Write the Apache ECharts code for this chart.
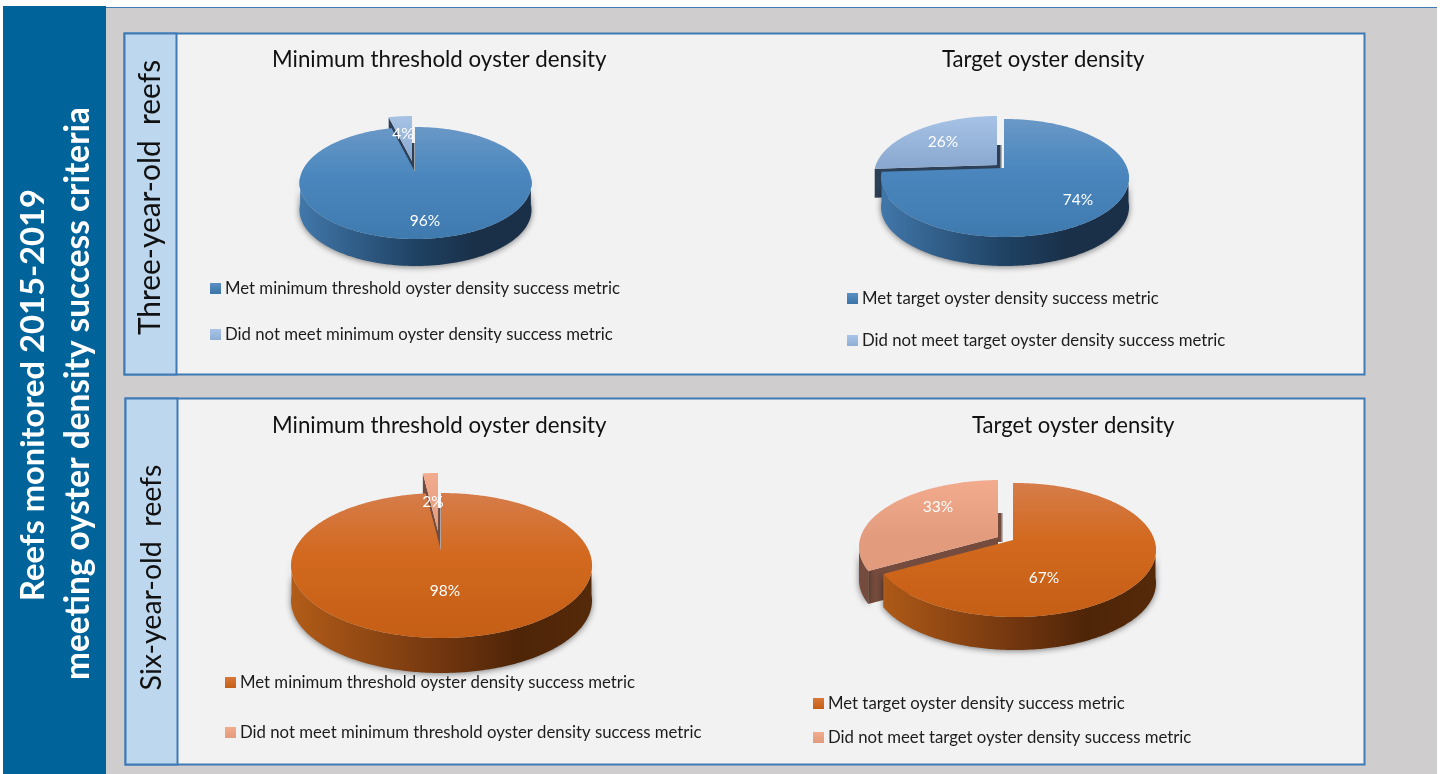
<!DOCTYPE html>
<html>
<head>
<meta charset="utf-8">
<title>Reefs monitored 2015-2019</title>
<style>html,body{margin:0;padding:0;background:#fff}#chart{width:1440px;height:774px}</style>
<script src="https://cdn.jsdelivr.net/npm/echarts@6/dist/echarts.min.js"></script>
</head>
<body>
<div id="chart"></div>
<script>
// ---- data ----
var threeYearMinimum = [96, 4];
var threeYearTarget = [74, 26];
var sixYearMinimum = [98, 2];
var sixYearTarget = [67, 33];
var pieTitles = ['Minimum threshold oyster density', 'Target oyster density', 'Minimum threshold oyster density', 'Target oyster density'];
var threeYearMinimumLegend = ['Met minimum threshold oyster density success metric', 'Did not meet minimum oyster density success metric'];
var threeYearTargetLegend = ['Met target oyster density success metric', 'Did not meet target oyster density success metric'];
var sixYearMinimumLegend = ['Met minimum threshold oyster density success metric', 'Did not meet minimum threshold oyster density success metric'];
var sixYearTargetLegend = ['Met target oyster density success metric', 'Did not meet target oyster density success metric'];

// ---- layout and style ----
var FONT = 'Lato, "Open Sans", sans-serif';
var BLUE = {
  top: ['#6a98c6', '#4b87be', '#3f7aaf'], wall: ['#4177aa', '#1f4263', '#1a3049', '#1a3049'],
  lightTop: ['#a6c3e6', '#8ba9d0'], lightWall: '#2c4058', swatch: ['#5a8fc2', '#3b74a8'], swatchLight: ['#a9c5e8', '#8fadd4']
};
var ORANGE = {
  top: ['#d67d4b', '#d2691f', '#c55f15'], wall: ['#b25c18', '#72360f', '#4f2508', '#552a0a'],
  lightTop: ['#f3ab8e', '#e39b7d'], lightWall: '#744b3c', swatch: ['#d9783a', '#c55f15'], swatchLight: ['#f3ab8e', '#e39b7d']
};
var pies = [
  {values: threeYearMinimum, legend: threeYearMinimumLegend, theme: BLUE, cx: 415.5, cy: 183, rx: 116, ry: 56, depth: 27, ax: 415, ay: 172, ox: -3, oy: -11,
   labels: [[425, 221], [403, 134]], title: [272, 60], titleSize: 22.3, legendPos: [210, 280], legendGap: 29},
  {values: threeYearTarget, legend: threeYearTargetLegend, theme: BLUE, cx: 1005, cy: 178, rx: 124, ry: 59, depth: 29, ax: 1004, ay: 168, ox: -7, oy: -3,
   labels: [[1078, 200], [943, 142]], title: [942, 60], titleSize: 22.1, legendPos: [847, 290], legendGap: 25},
  {values: sixYearMinimum, legend: sixYearMinimumLegend, theme: ORANGE, cx: 441.5, cy: 565.5, rx: 150.5, ry: 72.5, depth: 35, ax: 441, ay: 551, ox: -3, oy: -20,
   labels: [[445, 591], [433, 502]], title: [272, 426], titleSize: 22.3, legendPos: [225, 674], legendGap: 33},
  {values: sixYearTarget, legend: sixYearTargetLegend, theme: ORANGE, cx: 1015, cy: 550, rx: 141, ry: 67, depth: 33, ax: 1013, ay: 540, ox: -15, oy: -3,
   labels: [[1044, 578], [938, 507]], title: [972, 426], titleSize: 22.1, legendPos: [813, 695], legendGap: 17}
];

function edgePoint(p, deg, ox, oy) {
  var t = deg * Math.PI / 180;
  var dx = p.rx * Math.sin(t), dy = -p.ry * Math.cos(t);
  var ux = (p.ax - p.cx) / p.rx, uy = (p.ay - p.cy) / p.ry;
  var vx = dx / p.rx, vy = dy / p.ry;
  var a = vx * vx + vy * vy, b = 2 * (ux * vx + uy * vy), c = ux * ux + uy * uy - 1;
  var s = (-b + Math.sqrt(b * b - 4 * a * c)) / (2 * a);
  return [p.ax + s * dx + ox, p.ay + s * dy + oy];
}
function grad(x0, y0, x1, y1, colors) {
  var stops = colors.map(function (c, i) { return {offset: colors.length === 4 ? [0, 0.5, 0.75, 1][i] : (colors.length === 3 ? [0, 0.42, 1][i] : i), color: c}; });
  return new echarts.graphic.LinearGradient(x0, y0, x1, y1, stops, true);
}
function shifted(pts, d) { return pts.map(function (q) { return [q[0], q[1] + d]; }); }

function sliceRenderer(p, sliceIndex) {
  return function (params, api) {
    var share = api.value(0), startShare = api.value(1);
    var isMain = sliceIndex === 0;
    var ox = isMain ? 0 : p.ox, oy = isMain ? 0 : p.oy;
    var th = p.theme, children = [];
    var a0 = startShare * 3.6, a1 = (startShare + share) * 3.6;
    var arc = [];
    for (var a = a0; a < a1; a += 0.75) arc.push(edgePoint(p, a, ox, oy));
    arc.push(edgePoint(p, a1, ox, oy));
    var apex = [p.ax + ox, p.ay + oy];
    var shadow = {shadowBlur: 6, shadowColor: 'rgba(0,0,0,0.5)', shadowOffsetY: 1};

    if (!isMain) {
      var e0 = arc[0];
      children.push({type: 'polygon', silent: true, shape: {points: [e0, apex, [apex[0], apex[1] + p.depth], [e0[0], e0[1] + p.depth]]},
        style: {fill: th.lightWall}});
      var e1 = arc[arc.length - 1];
      var w = Math.max(3, Math.min(5, p.ax - apex[0]));
      children.push({type: 'polygon', silent: true,
        shape: {points: [[e1[0], e1[1] + p.depth], [e1[0] + w, e1[1] + p.depth], [apex[0] + w, p.ay + 2], [apex[0], p.ay + 2]]},
        style: {fill: new echarts.graphic.LinearGradient(0, 0, 1, 0, [{offset: 0, color: th.lightWall}, {offset: 0.5, color: th.lightWall}, {offset: 1, color: 'rgba(120,120,120,0.35)'}])}});
    }
    var front = arc.filter(function (q) { return q[1] >= p.cy + oy - (isMain ? 6 : 0); });
    if (front.length > 1) {
      var wallPts = front.concat(shifted(front, p.depth).reverse());
      children.push({type: 'polygon', silent: true, shape: {points: wallPts},
        style: Object.assign({fill: isMain ? grad(p.cx - p.rx, 0, p.cx + p.rx, 0, th.wall) : th.lightWall}, shadow)});
    }
    children.push({type: 'polygon', silent: true, shape: {points: [apex].concat(arc)},
      style: {fill: isMain ? grad(0, p.cy - p.ry, 0, p.cy + p.ry, th.top) : grad(0, p.cy - p.ry + oy, 0, apex[1], th.lightTop)}});
    children.push({type: 'text', silent: true, z2: 100,
      style: {text: share + '%', x: p.labels[sliceIndex][0], y: p.labels[sliceIndex][1], fill: '#ffffff', font: '15.5px ' + FONT, align: 'center', verticalAlign: 'middle'}});
    return {type: 'group', children: children};
  };
}

var seriesList = [];
pies.forEach(function (p) {
  [1, 0].forEach(function (i) {
    var start = i === 0 ? 0 : p.values[0];
    seriesList.push({
      type: 'custom', coordinateSystem: 'none', name: p.legend[i], animation: false, silent: true,
      itemStyle: {color: i === 0 ? p.theme.top[1] : p.theme.lightTop[0]},
      renderItem: sliceRenderer(p, i),
      data: [[p.values[i], start]], encode: {tooltip: 0}
    });
  });
});

var legends = pies.map(function (p) {
  return {
    orient: 'vertical', left: p.legendPos[0], top: p.legendPos[1], itemWidth: 11, itemHeight: 11, itemGap: p.legendGap,
    selectedMode: false, icon: 'rect', padding: 0,
    textStyle: {fontFamily: FONT, fontSize: 16.75, color: '#1c1c1c', padding: [0, 0, 0, -1]},
    data: [
      {name: p.legend[0], itemStyle: {color: new echarts.graphic.LinearGradient(0, 0, 0, 1, [{offset: 0, color: p.theme.swatch[0]}, {offset: 1, color: p.theme.swatch[1]}])}},
      {name: p.legend[1], itemStyle: {color: new echarts.graphic.LinearGradient(0, 0, 0, 1, [{offset: 0, color: p.theme.swatchLight[0]}, {offset: 1, color: p.theme.swatchLight[1]}])}}
    ]
  };
});
var titles = pies.map(function (p, i) {
  return {text: pieTitles[i], left: p.title[0], top: p.title[1] - 14, padding: 0,
    textStyle: {fontFamily: FONT, fontSize: p.titleSize, fontWeight: 'normal', color: '#111111', lineHeight: 28}};
});

function box(x, y, w, h, fill, stroke, lw) {
  return {type: 'rect', silent: true, shape: {x: x, y: y, width: w, height: h}, style: {fill: fill, stroke: stroke || null, lineWidth: lw || 0}};
}
function vtext(t, cx, cy, size, weight, color) {
  return {type: 'text', silent: true, x: cx, y: cy, rotation: Math.PI / 2,
    style: {text: t, x: 0, y: 0, fill: color, font: weight + ' ' + size + 'px ' + FONT, align: 'center', verticalAlign: 'middle'}};
}
var EDGE = '#3f7ab5';
var graphics = [
  box(106, 7, 1331, 767, '#cfcdcd'),
  box(106, 7, 1331, 1, EDGE),
  box(3, 6, 103, 768, '#00639a'),
  box(124.5, 33.5, 1240, 341, '#f2f2f2', EDGE, 2),
  box(124.5, 33.5, 52, 341, '#bdd7ee', EDGE, 2),
  box(125.5, 398.5, 1239, 366, '#f2f2f2', EDGE, 2),
  box(125.5, 398.5, 52, 366, '#bdd7ee', EDGE, 2),
  vtext('Reefs monitored 2015-2019', 33, 395, 32.7, 'bold', '#ffffff'),
  vtext('meeting oyster density success criteria', 78, 393.5, 33.4, 'bold', '#ffffff'),
  vtext('Three-year-old  reefs', 150, 197.5, 29.9, 'normal', '#111111'),
  vtext('Six-year-old  reefs', 152, 577.5, 28.5, 'normal', '#111111')
];

var chart = echarts.init(document.getElementById('chart'), null, {renderer: 'canvas'});
chart.setOption({
  backgroundColor: '#ffffff',
  animation: false,
  title: titles,
  legend: legends,
  graphic: {elements: graphics},
  series: seriesList
});
</script>
</body>
</html>
